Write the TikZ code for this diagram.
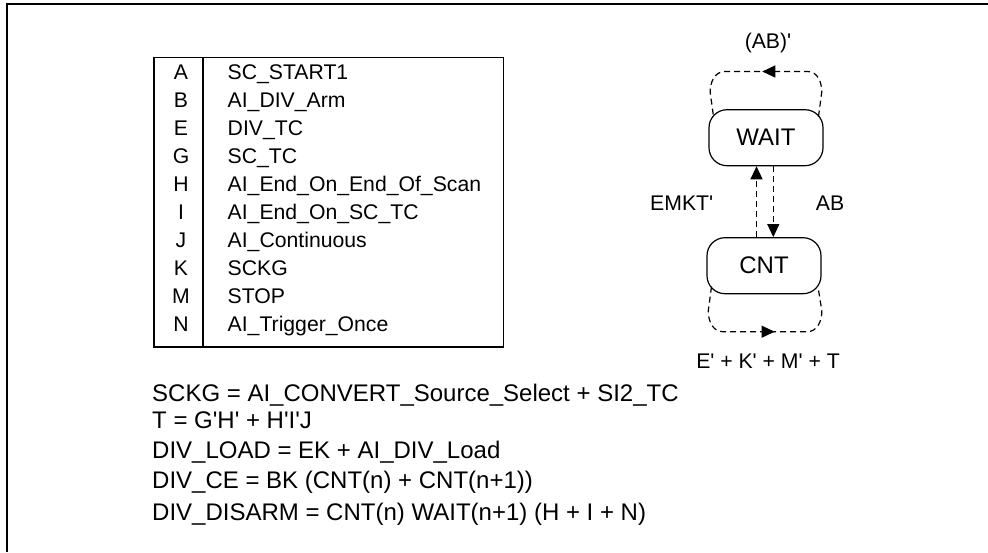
\documentclass[tikz,border=0pt]{standalone}
\usepackage{fontspec}
\setmainfont{Liberation Sans}
\usetikzlibrary{arrows.meta,calc,decorations.markings}
\newcommand{\myq}{\textquotesingle}
\begin{document}
\begin{tikzpicture}[x=1pt,y=-1pt,
  tbl/.style={font=\fontsize{21.2}{24}\selectfont, inner sep=0pt, anchor=base west},
  lett/.style={font=\fontsize{21.2}{24}\selectfont, inner sep=0pt, anchor=base},
  eqn/.style={font=\fontsize{24}{28}\selectfont, inner sep=0pt, anchor=base west},
  lbl/.style={font=\fontsize{21.2}{24}\selectfont, inner sep=0pt, anchor=base},
  state/.style={draw, line width=1.2pt, rounded corners=18pt, minimum width=114pt,
    minimum height=56pt, inner sep=0pt, font=\fontsize{24}{28}\selectfont},
  trans/.style={line width=1.2pt, dash pattern=on 6pt off 4pt},
  arr/.style={-{Triangle[length=13pt,width=12pt]}},
  midarr/.style={postaction={decorate}, decoration={markings,
    mark=at position #1 with {\arrow{Triangle[length=13pt,width=12pt]}}}}
]
\useasboundingbox (0,0) rectangle (988,552);
% outer frame
\draw[line width=2pt] (7,552) -- (7,4) -- (988,4);
% table
\draw[line width=1pt] (154,57) rectangle (503,347);
\draw[line width=2pt] (154,56.5) -- (154,347) -- (503,347);
\draw[line width=1.8pt] (203,57) -- (203,347);
\foreach \l/\t [count=\i from 0] in {A/SC\_START1, B/AI\_DIV\_Arm, E/DIV\_TC, G/SC\_TC,
  H/AI\_End\_On\_End\_Of\_Scan, I/AI\_End\_On\_SC\_TC, J/AI\_Continuous, K/SCKG, M/STOP,
  N/AI\_Trigger\_Once}{
  \node[lett] (l\i) at (181,{79.3+28*\i}) {\l};
  \node[tbl] (t\i) at (227.5,{79.3+28*\i}) {\t};
}
% equations
\node[eqn] (e1) at (152,401.9) {SCKG = AI\_CONVERT\_Source\_Select + SI2\_TC};
\node[eqn] (e2) at (152,428.6) {T = G\myq H\myq{} + H\myq I\myq J};
\node[eqn] (e3) at (152,458.6) {DIV\_LOAD = EK + AI\_DIV\_Load};
\node[eqn] (e4) at (152,488.6) {DIV\_CE = BK (CNT(n) + CNT(n+1))};
\node[eqn] (e5) at (152,520.3) {DIV\_DISARM = CNT(n) WAIT(n+1) (H + I + N)};
% states
\node[state] (WAIT) at (766,137.7) {WAIT};
\node[state] (CNT) at (764,265.7) {CNT};
% transitions between states
\draw[trans,arr] ([xshift=-7.5pt]CNT.north) -- ([xshift=-7.5pt]CNT.north |- WAIT.south);
\draw[trans,arr] ([xshift=7.3pt]WAIT.south) -- ([xshift=7.3pt]WAIT.south |- CNT.north);
% self loops
\coordinate (w1) at ($(WAIT.center)+(52.5,-21.2)$);
\coordinate (w2) at ($(WAIT.center)+(-52.5,-21.2)$);
\draw[trans,midarr=0.52] (w1) -- ++(3.2,-24) .. controls +(0.3,-10) and +(10,0) .. ++(-14,-21)
  -- ++(-83,0) .. controls +(-10,0) and +(-0.3,-10) .. ++(-14.5,21) -- (w2);
\coordinate (c1) at ($(CNT.center)+(-52.5,21)$);
\coordinate (c2) at ($(CNT.center)+(54,21)$);
\draw[trans,midarr=0.55] (c1) -- ++(-3.2,24) .. controls +(-0.3,10) and +(-10,0) .. ++(14.5,21)
  -- ++(84.5,0) .. controls +(10,0) and +(0.3,10) .. ++(14.5,-21) -- (c2);
% labels
\node[lbl] (lab1) at (768,48) {(AB)\myq};
\node[lbl] (lab2) at (681.7,210) {EMKT\myq};
\node[lbl] (lab3) at (830,210) {AB};
\node[lbl] (lab4) at (768,368) {E\myq{} + K\myq{} + M\myq{} + T};
\end{tikzpicture}
\end{document}
